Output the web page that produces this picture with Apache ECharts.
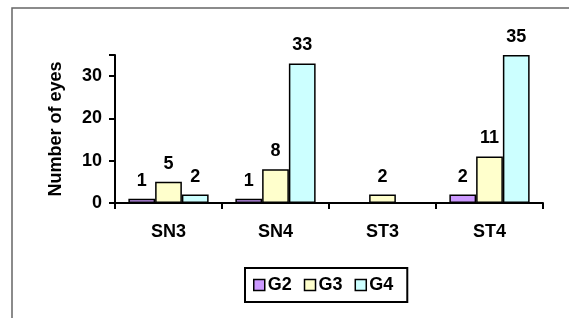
<!DOCTYPE html>
<html>
<head>
<meta charset="utf-8">
<script src="https://cdn.jsdelivr.net/npm/echarts@6/dist/echarts.min.js"></script>
<style>
  html, body { margin: 0; padding: 0; background: #fff; }
  #chart { width: 569px; height: 318px; }
</style>
</head>
<body>
<div id="chart"></div>
<script>
var categories = ['SN3', 'SN4', 'ST3', 'ST4'];
var g2 = [1, 1, null, 2];
var g3 = [5, 8, 2, 11];
var g4 = [2, 33, null, 35];
var yTicks = [0, 10, 20, 30];

var font = '"Liberation Sans", Arial, sans-serif';

function bar(name, data, color) {
  return {
    name: name,
    type: 'bar',
    data: data,
    barGap: '0%',
    barCategoryGap: '25%',
    itemStyle: { color: color, borderColor: '#000', borderWidth: 1.5 },
    label: {
      show: true,
      position: 'top',
      distance: 9,
      color: '#000',
      fontFamily: font,
      fontWeight: 'bold',
      fontSize: 18
    }
  };
}

var chart = echarts.init(document.getElementById('chart'));
chart.setOption({
  animation: false,
  textStyle: { fontFamily: font },
  graphic: [{
    type: 'rect',
    shape: { x: 12, y: 8, width: 620, height: 400 },
    style: { fill: 'none', stroke: '#666', lineWidth: 1.5 },
    silent: true
  }],
  grid: { left: 115, right: 26, top: 55, bottom: 115 },
  legend: {
    left: 245,
    top: 268,
    padding: [8, 14, 8, 8],
    itemWidth: 11,
    itemHeight: 11,
    itemGap: 12,
    borderColor: '#000',
    borderWidth: 2,
    icon: 'rect',
    itemStyle: { borderColor: '#000', borderWidth: 1.5 },
    textStyle: { fontFamily: font, fontWeight: 'bold', fontSize: 18, color: '#000', padding: [0, 0, 0, -2] },
    data: ['G2', 'G3', 'G4']
  },
  xAxis: {
    type: 'category',
    data: categories,
    axisLine: { lineStyle: { color: '#000', width: 2 } },
    axisTick: { show: true, length: 6, lineStyle: { color: '#000', width: 2 } },
    axisLabel: { color: '#000', fontFamily: font, fontWeight: 'bold', fontSize: 18, margin: 20 }
  },
  yAxis: {
    type: 'value',
    min: 0,
    max: 35,
    interval: 10,
    name: 'Number of eyes',
    nameLocation: 'middle',
    nameGap: 50,
    nameTextStyle: { color: '#000', fontFamily: font, fontWeight: 'bold', fontSize: 18 },
    splitLine: { show: false },
    axisLine: { show: true, lineStyle: { color: '#000', width: 2 } },
    axisTick: { show: true, length: 6, lineStyle: { color: '#000', width: 2 } },
    axisLabel: {
      color: '#000', fontFamily: font, fontWeight: 'bold', fontSize: 18, margin: 13,
      formatter: function (v) { return yTicks.indexOf(v) >= 0 ? String(v) : ''; }
    }
  },
  series: [
    bar('G2', g2, '#CC99FF'),
    bar('G3', g3, '#FFFFCC'),
    bar('G4', g4, '#CCFFFF')
  ]
});
</script>
</body>
</html>
